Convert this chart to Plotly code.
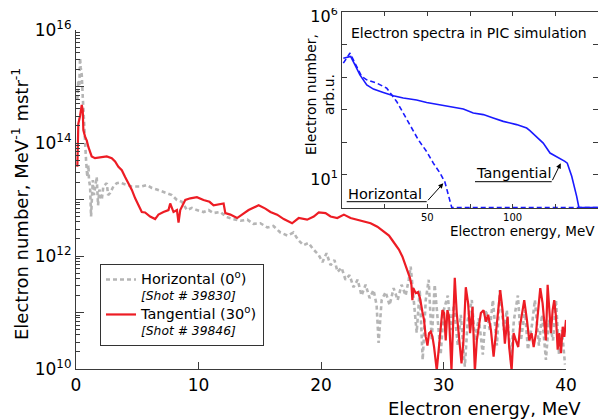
import plotly.graph_objects as go

# ---------------- main chart data (electron energy in MeV, electron number) ----------------
hor_E = [0.11, 0.19, 0.27, 0.33, 0.38, 0.47, 0.55, 0.60, 0.65, 0.74,
         0.82, 0.92, 1.01, 1.06, 1.15, 1.23, 1.37, 1.47, 1.55, 1.69,
         1.80, 1.91, 2.10, 2.23, 2.51, 2.62, 2.78, 3.05, 3.33, 3.60,
         3.87, 4.15, 4.56, 4.97, 5.37, 5.78, 6.19, 6.60, 7.01, 7.42,
         7.83, 8.24, 8.65, 9.06, 9.46, 9.87, 10.41, 10.82, 11.21, 11.78,
         12.27, 12.84, 13.42, 13.99, 14.48, 15.05, 15.62, 16.11, 16.69, 17.26,
         17.75, 18.16, 18.57, 18.98, 19.39, 19.80, 20.12, 20.45, 20.78, 21.10,
         21.35, 21.68, 22.00, 22.33, 22.66, 22.99, 23.31, 23.64, 23.97, 24.29,
         24.54, 24.70, 24.95, 25.28, 25.60, 25.93, 26.26, 26.58, 26.91, 27.16,
         27.32, 27.57, 27.81, 28.06, 28.30, 28.55, 28.79, 29.04, 29.28, 29.53,
         29.77, 30.02, 30.35, 30.59, 30.84, 31.17, 31.41, 31.74, 31.98, 32.31,
         32.56, 32.88, 33.21, 33.46, 33.78, 34.03, 34.36, 34.60, 34.93, 35.17,
         35.50, 35.75, 36.07, 36.32, 36.65, 36.89, 37.22, 37.46, 37.79, 38.04,
         38.36, 38.61, 38.94, 39.18, 39.43, 39.67, 39.92]
hor_N = [5.8e14, 1.3e15, 1.0e15, 3.2e15, 2.2e15, 1.6e15, 6.6e14, 3.8e14, 1.7e14, 9.1e13,
         5.0e13, 2.5e13, 4.1e13, 2.2e13, 1.7e13, 5.0e12, 2.2e13, 1.2e13, 1.7e13, 2.5e13,
         7.9e12, 1.5e13, 9.8e12, 1.7e13, 1.95e13, 1.2e13, 1.3e13, 1.7e13, 1.95e13, 2.0e13,
         1.9e13, 1.8e13, 1.7e13, 1.7e13, 1.7e13, 1.8e13, 1.6e13, 1.5e13, 1.4e13, 1.3e13,
         1.2e13, 9.8e12, 9.1e12, 6.5e12, 7.1e12, 6.5e12, 6.0e12, 6.5e12, 5.75e12, 6.0e12,
         4.9e12, 4.5e12, 4.2e12, 4.4e12, 3.7e12, 3.8e12, 3.2e12, 3.4e12, 2.6e12, 2.3e12,
         2.6e12, 1.9e12, 1.55e12, 1.7e12, 1.3e12, 1.05e12, 7.8e11, 1.12e12, 6.9e11, 8.5e11,
         5.25e11, 6.2e11, 3.8e11, 4.6e11, 2.8e11, 3.8e11, 2.0e11, 3.1e11, 1.8e11, 2.5e11,
         1.35e11, 2.9e10, 1.66e11, 2.3e11, 1.35e11, 2.7e11, 1.66e11, 3.1e11, 2.0e11, 3.8e11,
         6.5e11, 1.66e11, 4.4e10, 2.5e11, 1.45e10, 1.66e11, 3.8e11, 3.2e10, 3.1e11, 7.4e10,
         1.8e10, 1.1e11, 2.0e11, 4.9e10, 1.35e11, 2.6e10, 9.1e10, 1.1e10, 7.4e10, 1.66e11,
         3.2e10, 7.9e10, 1.8e10, 1.1e11, 4.9e10, 1.66e11, 2.6e10, 2.5e11, 4.9e10, 1.1e11,
         1.45e10, 7.4e10, 2.0e11, 3.2e10, 1.1e11, 2.2e10, 6.0e10, 1.66e11, 2.6e10, 9.1e10,
         1.45e10, 7.4e10, 3.2e10, 1.66e11, 1.8e10, 4.9e10, 1.2e10]

tang_E = [0.11, 0.19, 0.33, 0.47, 0.55, 0.60, 0.74, 0.88, 1.01, 1.15,
          1.28, 1.55, 1.96, 2.51, 2.92, 3.19, 3.46, 3.74, 4.01, 4.28,
          4.56, 4.83, 5.10, 5.37, 5.64, 6.05, 6.46, 6.73, 7.14, 7.55,
          7.69, 7.96, 8.24, 8.37, 8.51, 8.92, 9.33, 9.87, 10.41, 10.90,
          11.23, 11.78, 12.05, 12.19, 12.60, 13.15, 13.55, 14.09, 14.91, 15.46,
          15.87, 16.42, 16.96, 17.64, 18.18, 18.87, 19.41, 19.82, 20.37, 20.78,
          21.33, 21.87, 22.41, 22.96, 23.50, 24.05, 24.60, 25.14, 25.55, 25.82,
          26.09, 26.36, 26.64, 26.91, 27.10, 27.26, 27.38, 27.46, 27.54, 27.73,
          27.92, 28.08, 28.28, 28.41, 28.55, 28.69, 28.82, 28.96, 29.10, 29.23,
          29.45, 29.64, 29.91, 30.05, 30.18, 30.32, 30.45, 30.65, 30.81, 30.92,
          31.08, 31.27, 31.47, 31.63, 31.82, 32.01, 32.17, 32.37, 32.56, 32.72,
          32.91, 33.05, 33.27, 33.46, 33.65, 33.87, 34.09, 34.27, 34.46, 34.63,
          34.82, 35.01, 35.23, 35.36, 35.56, 35.72, 35.91, 36.10, 36.26, 36.46,
          36.59, 36.81, 37.00, 37.19, 37.36, 37.55, 37.73, 37.90, 38.09, 38.23,
          38.36, 38.50, 38.63, 38.77, 38.91, 39.04, 39.18, 39.32, 39.45, 39.59,
          39.73, 39.86, 40.00]
tang_N = [3.8e13, 2.2e14, 3.0e14, 4.7e14, 3.8e14, 1.7e14, 1.3e14, 1.1e14, 8.5e13, 6.6e13,
          5.8e13, 5.4e13, 5.6e13, 5.8e13, 5.4e13, 4.7e13, 3.8e13, 3.3e13, 2.5e13, 1.95e13,
          1.48e13, 1.05e13, 7.9e12, 6.0e12, 5.9e12, 5.0e12, 4.5e12, 5.4e12, 6.0e12, 6.5e12,
          8.5e12, 6.0e12, 6.5e12, 3.9e12, 6.5e12, 9.8e12, 1.05e13, 1.1e13, 9.8e12, 9.1e12,
          7.9e12, 8.3e12, 8.5e12, 5.75e12, 5.4e12, 4.7e12, 5.4e12, 6.5e12, 7.9e12, 6.9e12,
          6.0e12, 5.4e12, 4.5e12, 3.8e12, 4.7e12, 4.4e12, 5.0e12, 5.9e12, 5.75e12, 5.0e12,
          4.7e12, 5.4e12, 4.7e12, 4.4e12, 4.1e12, 3.8e12, 3.3e12, 2.7e12, 2.3e12, 1.9e12,
          1.55e12, 1.3e12, 9.8e11, 6.9e11, 5.25e11, 4.1e11, 3.1e11, 1.66e11, 2.7e11, 2.2e11,
          2.3e11, 1.8e11, 1.02e11, 7.4e10, 3.7e10, 2.6e10, 4.3e10, 4.6e10, 3.7e10, 2.45e10,
          9.5e9, 2.45e10, 1.1e11, 9.8e10, 3.2e10, 1.1e11, 8.5e10, 9.5e9, 1.66e11, 4.1e11,
          9.8e10, 3.2e10, 1.26e10, 3.2e10, 2.8e11, 1.45e11, 4.3e10, 1.26e11, 9.0e9, 3.2e10,
          5.6e10, 9.8e10, 1.1e11, 6.9e10, 9.1e10, 4.9e10, 1.66e10, 4.3e10, 9.8e10, 2.5e11,
          1.1e11, 2.8e10, 8.5e10, 2.45e10, 9.5e9, 4.3e10, 3.2e10, 2.45e10, 6.0e10, 1.1e11,
          1.66e11, 7.4e10, 3.2e10, 4.3e10, 2.45e10, 4.3e10, 1.1e11, 2.7e11, 1.45e11, 5.6e10,
          3.2e10, 3.1e11, 1.1e11, 4.3e10, 1.1e11, 1.66e11, 8.5e10, 2.2e10, 4.3e10, 1.9e10,
          5.6e10, 3.7e10, 7.4e10]

# ---------------- inset data (PIC simulation) ----------------
pic_tang_E = [0.78, 5.1, 7.6, 10.5, 14.5, 18.4, 24.2, 30.1, 35.9, 43.7, 49.6, 57.4, 61.3,
              67.2, 71.1, 76.9, 82.8, 88.6, 94.5, 102.3, 108.2, 110.1, 114.1, 117.9, 121.9,
              125.8, 130.6, 132.0, 134.6, 137.5, 138.8, 150.0]
pic_tang_N = [3.8e4, 4.3e4, 2.4e4, 1.17e4, 5.8e3, 4.3e3, 3.4e3, 2.7e3, 2.3e3, 2.0e3, 1.66e3,
              1.4e3, 1.26e3, 1.12e3, 1.05e3, 790, 710, 560, 440, 350, 275, 230, 150, 95, 47,
              37, 26, 23, 9.1, 2.2, 1.0, 1.0]
pic_hor_E = [0.78, 4.7, 7.6, 11.5, 14.5, 20.3, 26.2, 29.1, 32.0, 35.9, 40.8, 44.7, 49.6,
             53.5, 57.4, 60.3, 64.3, 150.0]
pic_hor_N = [2.7e4, 5.5e4, 2.7e4, 1.05e4, 8.3e3, 6.6e3, 4.6e3, 2.9e3, 1.8e3, 790, 275, 120,
             52, 23, 11.5, 6.0, 1.0, 1.0]

# ---------------- ticks ----------------
main_xticks = [0, 10, 20, 30, 40]
main_yticks = [1e10, 1e11, 1e12, 1e13, 1e14, 1e15, 1e16]
main_yticktext = ['10<sup>10</sup>', '', '10<sup>12</sup>', '', '10<sup>14</sup>', '', '10<sup>16</sup>']
inset_xticks = [25, 50, 75, 100, 125]
inset_xticktext = ['', '50', '', '100', '']
inset_yticks = [1e1, 1e2, 1e3, 1e4, 1e5, 1e6]
inset_yticktext = ['10<sup>1</sup>', '', '', '', '', '10<sup>6</sup>']
minor_y = [m * 10.0 ** k for k in range(10, 16) for m in range(2, 10)]

# ---------------- geometry (page body has an 8px margin) ----------------
OFF = 8
W, H = 606 - OFF, 420 - OFF
ML, MR, MT, MB = 76 - OFF, 8, 12 - OFF, 51
PW = W - ML - MR
PH = H - MT - MB


def fx(px):
    """reference-screen pixel x -> paper fraction"""
    return (px - OFF - ML) / PW


def fy(py):
    """reference-screen pixel y -> paper fraction"""
    return (H - MB - (py - OFF)) / PH


FONT = 'DejaVu Sans'
AX = '#3a3a3a'
main_x_end = fx(566)
main_y_end = fy(30)

fig = go.Figure()
fig.add_trace(go.Scatter(
    x=hor_E, y=hor_N, mode='lines',
    name="<span style='font-size:14.5px'>Horizontal (0<sup>o</sup>)</span><br><i>[Shot # 39830]</i>",
    line=dict(color='#b5b5b5', width=2.6, dash='4px,3px'), xaxis='x', yaxis='y'))
fig.add_trace(go.Scatter(
    x=tang_E, y=tang_N, mode='lines',
    name="<span style='font-size:14.5px'>Tangential (30<sup>o</sup>)</span><br><i>[Shot # 39846]</i>",
    line=dict(color='#ed1c24', width=2.2), xaxis='x', yaxis='y'))
fig.add_trace(go.Scatter(
    x=pic_tang_E, y=pic_tang_N, mode='lines', showlegend=False,
    line=dict(color='#1a1aff', width=1.6), xaxis='x2', yaxis='y2'))
fig.add_trace(go.Scatter(
    x=pic_hor_E, y=pic_hor_N, mode='lines', showlegend=False,
    line=dict(color='#1a1aff', width=1.6, dash='5px,3px'), xaxis='x2', yaxis='y2'))

common = dict(automargin=False, showgrid=False, zeroline=False)

fig.update_layout(
    template='none',
    width=W, height=H,
    margin=dict(l=ML, r=MR, t=MT, b=MB, pad=0, autoexpand=False),
    paper_bgcolor='white', plot_bgcolor='white',
    font=dict(family=FONT, color='black'),
    xaxis=dict(domain=[0, main_x_end], anchor='y', range=[0, 40],
               tickvals=main_xticks, ticks='inside', ticklen=7, tickcolor=AX,
               showline=True, linecolor=AX, linewidth=1.2,
               tickfont=dict(size=17, family=FONT), **common),
    yaxis=dict(domain=[0, main_y_end], anchor='x', type='log', range=[10, 16],
               tickvals=main_yticks, ticktext=main_yticktext, ticks='inside', ticklen=8,
               tickcolor=AX, showline=True, linecolor=AX, linewidth=1.2,
               tickfont=dict(size=17, family=FONT), ticklabeloverflow='allow',
               minor=dict(tickvals=minor_y, ticks='inside', ticklen=4, tickcolor=AX), **common),
    xaxis2=dict(domain=[fx(342), 1], anchor='y2', range=[0, 150],
                tickvals=inset_xticks, ticktext=inset_xticktext, ticks='inside', ticklen=4,
                tickcolor=AX, showline=True, linecolor=AX, linewidth=1, mirror='ticks',
                tickfont=dict(size=10, family=FONT), ticklabeloverflow='allow', **common),
    yaxis2=dict(domain=[fy(208), 1], anchor='x2', type='log', range=[-0.015, 6],
                tickvals=inset_yticks, ticktext=inset_yticktext, ticks='inside', ticklen=5,
                tickcolor=AX, showline=True, linecolor=AX, linewidth=1, mirror='ticks',
                tickfont=dict(size=16, family=FONT), ticklabeloverflow='allow',
                ticklabelshift=4, **common),
    # short visible piece of the main frame on the right (below the inset)
    xaxis3=dict(domain=[main_x_end, 1], anchor='y3', range=[0, 1], visible=False, **common),
    yaxis3=dict(domain=[0, fy(247)], anchor='x3', side='left', type='log',
                range=[10, 10 + 6 * (369 - 247) / (369 - 30)],
                tickvals=main_yticks, ticks='outside', ticklen=8, tickcolor=AX,
                showticklabels=False, showline=True, linecolor=AX, linewidth=1.2,
                minor=dict(tickvals=minor_y, ticks='outside', ticklen=4, tickcolor=AX), **common),
    # short visible piece of the main frame on top (left of the inset)
    xaxis4=dict(domain=[0, fx(303)], anchor='y4', side='bottom',
                range=[0, 40 * (303 - 76) / (566 - 76)],
                tickvals=main_xticks, ticks='outside', ticklen=7, tickcolor=AX,
                showticklabels=False, showline=True, linecolor=AX, linewidth=1.2, **common),
    yaxis4=dict(domain=[main_y_end, 1], anchor='x4', range=[0, 1], visible=False, **common),
    legend=dict(x=fx(100), y=fy(264), xanchor='left', yanchor='top', valign='top',
                bordercolor='#333', borderwidth=1, bgcolor='white',
                font=dict(size=12.3, family=FONT), itemwidth=30, tracegroupgap=0),
    showlegend=True,
)


def label(text, px, py, size, angle=0, xanchor='center', yanchor='middle'):
    return dict(text=text, textangle=angle, xref='paper', yref='paper', x=fx(px), y=fy(py),
                xanchor=xanchor, yanchor=yanchor, showarrow=False,
                font=dict(size=size, family=FONT, color='black'))


ann = [
    label('Electron number, MeV<sup>-1</sup> mstr<sup>-1</sup>', 20, 204, 18, angle=-90),
    label('Electron energy, MeV', 583, 408, 18, xanchor='right'),
    label('Electron spectra in PIC simulation', 469, 33, 14),
    label('Electron energy, MeV', 597, 231, 13.5, xanchor='right'),
    label('Electron number,<br>arb.u.', 320, 95, 14, angle=-90),
    label('Tangential', 513.5, 173.5, 14.5),
    label('Horizontal', 385, 194, 14.5),
]
# arrows: tail given as pixel offset from the tip
ann.append(dict(text='', xref='paper', yref='paper', x=fx(560.7), y=fy(163.3),
                axref='pixel', ayref='pixel', ax=551.7 - 560.7, ay=181.7 - 163.3,
                showarrow=True, arrowhead=2, arrowsize=1, arrowwidth=1, arrowcolor='black'))
ann.append(dict(text='', xref='paper', yref='paper', x=fx(443.3), y=fy(183.3),
                axref='pixel', ayref='pixel', ax=426.7 - 443.3, ay=201.7 - 183.3,
                showarrow=True, arrowhead=2, arrowsize=1, arrowwidth=1, arrowcolor='black'))
fig.update_layout(annotations=ann)

fig.update_layout(shapes=[
    dict(type='line', xref='paper', yref='paper', x0=fx(475), x1=fx(551.7),
         y0=fy(181.7), y1=fy(181.7), line=dict(color='black', width=1)),
    dict(type='line', xref='paper', yref='paper', x0=fx(346.7), x1=fx(426.7),
         y0=fy(201.7), y1=fy(201.7), line=dict(color='black', width=1)),
])

fig.write_html('out.html')
